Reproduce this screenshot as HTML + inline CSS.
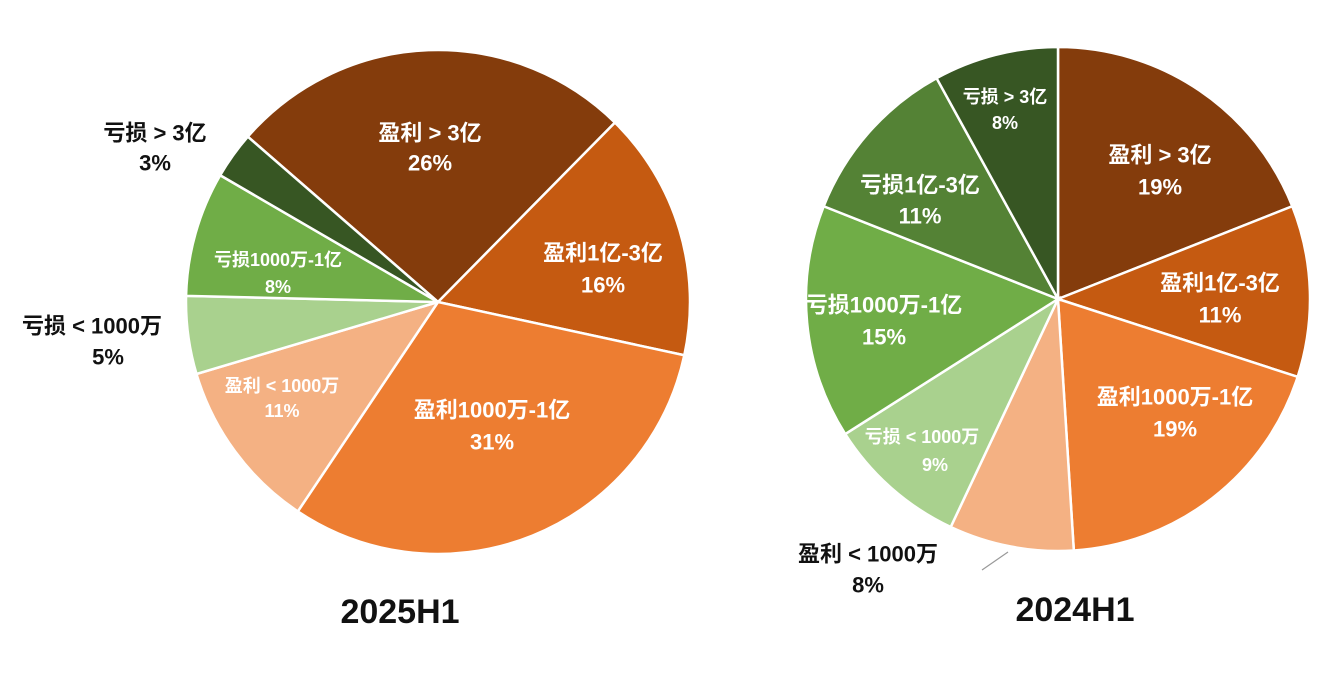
<!DOCTYPE html>
<html><head><meta charset="utf-8"><style>
html,body{margin:0;padding:0;background:#fff;width:1317px;height:678px;overflow:hidden}
svg{display:block}
text{font-family:"Liberation Sans","Noto Sans CJK SC",sans-serif;font-weight:bold;text-anchor:middle;dominant-baseline:central}
.w{fill:#fff;font-size:22px}
.s{fill:#fff;font-size:18px}
.b{fill:#111;font-size:22px}
</style></head><body>
<svg id="c" width="1317" height="678" viewBox="0 0 1317 678">
<g id="p1"></g><g id="p2"></g>
<line x1="1008" y1="552" x2="982" y2="570" stroke="#999" stroke-width="1.2"/>
<text class="w" x="430" y="133">盈利 &gt; 3亿</text><text class="w" x="430" y="163">26%</text>
<text class="w" x="603" y="253">盈利1亿-3亿</text><text class="w" x="603" y="285">16%</text>
<text class="w" x="492" y="410">盈利1000万-1亿</text><text class="w" x="492" y="442">31%</text>
<text class="s" x="282" y="386">盈利 &lt; 1000万</text><text class="s" x="282" y="411">11%</text>
<text class="s" x="278" y="260">亏损1000万-1亿</text><text class="s" x="278" y="287">8%</text>
<text class="b" x="92" y="326">亏损 &lt; 1000万</text><text class="b" x="108" y="357">5%</text>
<text class="b" x="155" y="133">亏损 &gt; 3亿</text><text class="b" x="155" y="163">3%</text>
<text class="w" x="1160" y="155">盈利 &gt; 3亿</text><text class="w" x="1160" y="187">19%</text>
<text class="w" x="1220" y="283">盈利1亿-3亿</text><text class="w" x="1220" y="315">11%</text>
<text class="w" x="1175" y="397">盈利1000万-1亿</text><text class="w" x="1175" y="429">19%</text>
<text class="s" x="922" y="437">亏损 &lt; 1000万</text><text class="s" x="935" y="465">9%</text>
<text class="w" x="884" y="305">亏损1000万-1亿</text><text class="w" x="884" y="337">15%</text>
<text class="w" x="920" y="185">亏损1亿-3亿</text><text class="w" x="920" y="216">11%</text>
<text class="s" x="1005" y="97">亏损 &gt; 3亿</text><text class="s" x="1005" y="123">8%</text>
<text class="b" x="868" y="554">盈利 &lt; 1000万</text><text class="b" x="868" y="585">8%</text>
<text x="400" y="612" style="font-size:34px;fill:#111">2025H1</text>
<text x="1075" y="610" style="font-size:34px;fill:#111">2024H1</text>
</svg>
<script>
function pie(id,cx,cy,r,start,data){
  var g=document.getElementById(id),a=start,h='';
  data.forEach(function(d){
    var a2=a+d[0]*3.6;
    var r1=(a-90)*Math.PI/180,r2=(a2-90)*Math.PI/180;
    var x1=cx+r*Math.cos(r1),y1=cy+r*Math.sin(r1),x2=cx+r*Math.cos(r2),y2=cy+r*Math.sin(r2);
    h+='<path d="M'+cx+' '+cy+' L'+x1+' '+y1+' A'+r+' '+r+' 0 '+((a2-a)>180?1:0)+' 1 '+x2+' '+y2+' Z" fill="'+d[1]+'" stroke="#fff" stroke-width="2.5"/>';
    a=a2;
  });
  g.innerHTML=h;
}
pie('p1',438,302,252,311,[[26,'#843C0C'],[16,'#C55A11'],[31,'#ED7D31'],[11,'#F4B183'],[5,'#A9D18E'],[8,'#70AD47'],[3,'#375623']]);
pie('p2',1058,299,252,0,[[19,'#843C0C'],[11,'#C55A11'],[19,'#ED7D31'],[8,'#F4B183'],[9,'#A9D18E'],[15,'#70AD47'],[11,'#548235'],[8,'#375623']]);
</script>
</body></html>
